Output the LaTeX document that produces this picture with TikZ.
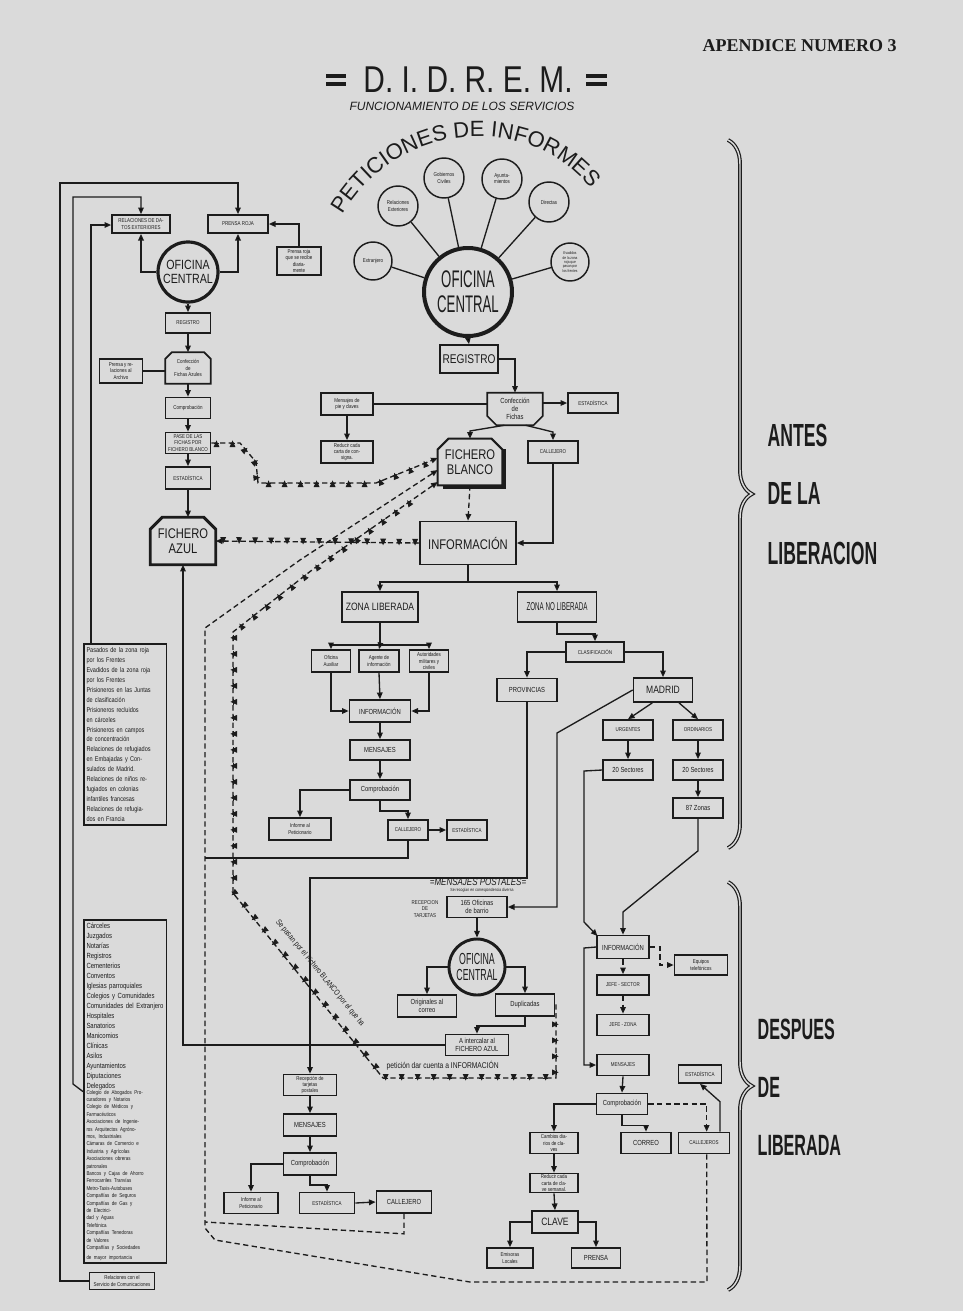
\documentclass[tikz,border=0pt]{standalone}
\usepackage{fontspec}
\setmainfont{Liberation Sans}
\newfontfamily\nf[FakeStretch=0.55]{Liberation Sans}
\newfontfamily\mf[FakeStretch=0.8]{Liberation Sans}
\newfontfamily\serfont{Liberation Serif}
\usetikzlibrary{arrows.meta,decorations.pathreplacing,decorations.markings,decorations.text,calc}
\definecolor{ink}{RGB}{28,28,28}
\definecolor{paper}{RGB}{218,218,218}
\newcommand\fT{\mf\fontsize{4.2}{4.6}\selectfont}
\newcommand\fS{\mf\fontsize{5.5}{6}\selectfont}
\newcommand\fM{\mf\fontsize{8}{9}\selectfont}
\newcommand\fL{\mf\fontsize{10.5}{11.5}\selectfont}
\newcommand\chamT[3]{\draw[ink,line width=#3,line join=miter] (#1.south west) -- ([yshift=-#2]#1.north west) -- ([xshift=#2]#1.north west) -- ([xshift=-#2]#1.north east) -- ([yshift=-#2]#1.north east) -- (#1.south east) -- cycle;}
\newcommand\chamB[3]{\draw[ink,line width=#3,line join=miter] (#1.north west) -- ([yshift=#2]#1.south west) -- ([xshift=#2]#1.south west) -- ([xshift=-#2]#1.south east) -- ([yshift=#2]#1.south east) -- (#1.north east) -- cycle;}
\begin{document}
\begin{tikzpicture}[x=0.75pt,y=-0.75pt,
  bx/.style 2 args={draw=ink, line width=1.25pt, minimum width={#1*0.75pt}, minimum height={#2*0.75pt}, inner sep=0.3pt, align=center, font=\fT, text=ink},
  sh/.style 2 args={minimum width={#1*0.75pt}, minimum height={#2*0.75pt}, inner sep=0.3pt, align=center, text=ink},
  cir/.style={draw=ink, circle, line width=1.1pt, minimum size={#1*1.5pt}, inner sep=0pt, align=center, font=\fT, text=ink},
  ln/.style={draw=ink, line width=1pt},
  ar/.style={ln, -{Triangle[length=5pt,width=4.2pt]}},
  dsh/.style={ln, dash pattern=on 4pt off 2.5pt},
  pl/.style={dsh, postaction={decorate, decoration={markings, mark=between positions 0.02 and 0.98 step 12pt with {\draw[solid,ink,line width=0.7pt] (-2pt,0)--(2pt,0) (0,-2pt)--(0,2pt);}}}},
  lst/.style={draw=ink, line width=1.25pt, align=left, inner sep=2pt, text=ink, anchor=north west}
]
\fill[paper] (0,0) rectangle (963,1311);
\useasboundingbox (0,0) rectangle (963,1311);

% ---------- titles
\node[font=\serfont\bfseries\fontsize{13.5}{14}\selectfont, text=ink, anchor=west] (apn) at (698,46) {APENDICE NUMERO 3};
\node[font=\mf\fontsize{28}{28}\selectfont, text=ink] (ttl) at (468,80) {D. I. D. R. E. M.};
\draw[ink,line width=2.4pt] (326,76)--(346,76) (326,84)--(346,84) (586,76)--(607,76) (586,84)--(607,84);
\node[font=\itshape\fontsize{9}{9}\selectfont, text=ink] (sub) at (462,106) {FUNCIONAMIENTO DE LOS SERVICIOS};
\path[decorate, decoration={text along path, text color=ink, text align=center, text={|\fontsize{16.5}{16.5}\selectfont|PETICIONES DE INFORMES}}] (342,216) .. controls (398,118) and (532,112) .. (592,190);

% ---------- top-left system
\node[cir=30, line width=2.4pt, font=\mf\fontsize{10}{10.5}\selectfont] (ocL) at (188,272) {OFICINA\\CENTRAL};
\node[bx={58}{18}] (rel) at (141,224) {RELACIONES DE DA-\\TOS EXTERIORES};
\node[bx={60}{18}] (pr) at (238,224) {PRENSA ROJA};
\node[bx={44}{28}] (prd) at (299,261) {Prensa roja\\que se recibe\\diaria-\\mente};
\node[bx={45}{20}] (regL) at (188,323) {REGISTRO};
\node[sh={45}{31}, font=\fT] (cfa) at (188,368) {Confección\\de\\Fichas Azules};
\chamT{cfa}{5pt}{1.25pt}
\node[bx={43}{24}] (arch) at (121,371) {Prensa y re-\\laciones al\\Archivo};
\node[bx={45}{21}] (cmpL) at (188,408) {Comprobación};
\node[bx={45}{21}] (pfb) at (188,443) {PASE DE LAS\\FICHAS POR\\FICHERO BLANCO};
\node[bx={45}{22}] (estL) at (188,478) {ESTADÍSTICA};
\node[sh={65}{47}, font=\fL] (faz) at (183,541) {FICHERO\\AZUL};
\chamT{faz}{9pt}{2.2pt}

\draw[ar] (ocL.west) -| (rel.south);
\draw[ar] (ocL.east) -| (pr.south);
\draw[ar] (prd.north) |- (pr.east);
\draw[ar] (ocL.south) -- (regL.north);
\draw[ar] (regL.south) -- (cfa.north);
\draw[ln] (arch.east) -- (arch.east -| cfa.west);
\draw[ar] (cfa.south) -- (cmpL.north);
\draw[ar] (cmpL.south) -- (pfb.north);
\draw[ar] (pfb.south) -- (estL.north);
\draw[ar] (estL.south) -- (estL.south |- faz.north);

% ---------- left lists
\node[lst, text width=58pt, minimum height=136pt, font=\mf\fontsize{5.2}{7.45}\selectfont] (tb1) at (83,643) {Pasados de la zona roja\\por los Frentes\\Evadidos de la zona roja\\por los Frentes\\Prisioneros en las Juntas\\de clasificación\\Prisioneros recluidos\\en cárceles\\Prisioneros en campos\\de concentración\\Relaciones de refugiados\\en Embajadas y Con-\\sulados de Madrid.\\Relaciones de niños re-\\fugiados en colonias\\infantiles francesas\\Relaciones de refugia-\\dos en Francia};
\node[lst, text width=58pt, minimum height=244pt, font=\mf\fontsize{5.6}{7.5}\selectfont] (tb2) at (83,919) {Cárceles\\Juzgados\\Notarías\\Registros\\Cementerios\\Conventos\\Iglesias parroquiales\\Colegios y Comunidades\\Comunidades del Extranjero\\Hospitales\\Sanatorios\\Manicomios\\Clínicas\\Asilos\\Ayuntamientos\\Diputaciones\\Delegados\\[-1pt]
{\fontsize{4.2}{5.55}\selectfont Colegio de Abogados Pro-\\curadores y Notarios\\Colegio de Médicos y\\Farmacéuticos\\Asociaciones de Ingenie-\\ros Arquitectos Agróno-\\mos, Industriales\\Cámaras de Comercio e\\Industria y Agrícolas\\Asociaciones obreras\\patronales\\Bancos y Cajas de Ahorro\\Ferrocarriles Tranvías\\Metro-Taxis-Autobuses\\Compañías de Seguros\\Compañías de Gas y\\de Electrici-\\dad y Aguas\\Telefónica\\Compañías Tenedoras\\de Valores\\Compañías y Sociedades\\de mayor importancia}};
\node[bx={65}{17}] (tb3) at (122,1281) {Relaciones con el\\Servicio de Comunicaciones};

\draw[ar] (tb3.west) -- (60,1281) -- (60,183) -| (pr.north);
\draw[ar] (tb2.west) -- (73,1084) -- (73,197) -| (rel.north);
\draw[ar] (tb1.north -| 91,0) -- (91,225) -- (rel.west |- 0,225);

% ---------- top centre: peticiones
\node[cir=44, line width=3pt, font=\nf\fontsize{18}{19}\selectfont] (ocT) at (468,292) {OFICINA\\CENTRAL};
\node[cir=19] (ext) at (373,261) {Extranjero};
\node[cir=20] (relx) at (398,206) {Relaciones\\Exteriores};
\node[cir=20] (gob) at (444,178) {Gobiernos\\Civiles};
\node[cir=20] (ayu) at (502,179) {Ayunta-\\mientos};
\node[cir=20] (dir) at (549,202) {Directas};
\node[cir=19, font=\mf\fontsize{3}{3.3}\selectfont] (hui) at (570,262) {Evadidos\\de la zona\\roja que\\pasan por\\los frentes};
\foreach \c in {ext,relx,gob,ayu,dir,hui} \draw[ln] (\c) -- (ocT);

\node[bx={58}{28}, font=\mf\fontsize{9.5}{10}\selectfont] (regT) at (469,359) {REGISTRO};
\node[sh={55}{32}, font=\fS] (cft) at (515,409) {Confección\\de\\Fichas};
\chamB{cft}{7pt}{1.25pt}
\node[bx={50}{20}] (estT) at (593,403) {ESTADÍSTICA};
\node[bx={52}{22}] (mpc) at (347,404) {Mensajes de\\pie y claves};
\node[bx={52}{22}] (rcc) at (347,452) {Reducir cada\\carta de con-\\signa.};
\node[sh={64}{46}, font=\fL] (fbl) at (470,462) {FICHERO\\BLANCO};
\draw[ink,line width=3pt] ([xshift=1.5pt,yshift=-8pt]fbl.north east) -- ([xshift=1.5pt,yshift=-1.5pt]fbl.south east) -- ([xshift=4pt,yshift=-1.5pt]fbl.south west);
\chamT{fbl}{8pt}{1.5pt}
\node[bx={50}{22}] (cal1) at (553,452) {CALLEJERO};
\node[bx={96}{43}, font=\fL] (inf) at (468,543) {INFORMACIÓN};

\draw[ar] (ocT.south) -- (regT.north);
\draw[ar] (regT.east) -| (cft.north);
\draw[ar] (estT.west -| cft.east) -- (estT.west);
\draw[ln] (mpc.east) -- (mpc.east -| cft.west);
\draw[ar] (mpc.south) -- (rcc.north);
\draw[ar] ([xshift=-8pt]cft.south) -- (fbl.north |- 0,431) -- (fbl.north);
\draw[ar] ([xshift=8pt]cft.south) -- (cal1.north |- 0,432) -- (cal1.north);
\draw[ar] (cal1.south) |- (inf.east);
\draw[ar, dsh] (fbl.south) -- (inf.north);
\draw[ar, pl] (inf.west) -- (faz.east);

% ---------- zona liberada
\coordinate (jz) at (468,582);
\node[bx={76}{30}, font=\fM] (zl) at (380,607) {ZONA LIBERADA};
\node[bx={79}{30}, font=\nf\fontsize{8.5}{9}\selectfont] (znl) at (557,607) {ZONA NO LIBERADA};
\draw[ln] (inf.south) -- (jz);
\draw[ar] (jz) -| (zl.north);
\draw[ar] (jz) -| (znl.north);
\coordinate (jl) at (380,645);
\node[bx={39}{22}] (oa) at (331,661) {Oficina\\Auxiliar};
\node[bx={40}{22}] (ag) at (379,661) {Agente de\\información};
\node[bx={39}{22}] (am) at (429,661) {Autoridades\\militares y\\civiles};
\draw[ln] (zl.south) -- (jl);
\draw[ar] (jl) -| (oa.north);
\draw[ar] (jl) -| (am.north);
\draw[ar] (jl) -- (ag.north);
\node[bx={61}{22}, font=\fS] (inf2) at (380,711) {INFORMACIÓN};
\node[bx={60}{20}, font=\fS] (mens1) at (380,750) {MENSAJES};
\node[bx={60}{20}, font=\fS] (comp1) at (380,790) {Comprobación};
\node[bx={62}{22}] (ipet1) at (300,829) {Informe al\\Peticionario};
\node[bx={40}{20}] (cal2) at (408,830) {CALLEJERO};
\node[bx={40}{20}] (est2) at (467,830) {ESTADÍSTICA};
\draw[ar] (oa.south) |- (inf2.west);
\draw[ar] (am.south) |- (inf2.east);
\draw[ar] (ag.south) -- (inf2.north);
\draw[ar] (inf2.south) -- (mens1.north);
\draw[ar] (mens1.south) -- (comp1.north);
\draw[ar] (comp1.west) -| (ipet1.north);
\draw[ar] (comp1.south) -- ++(0,10) -| (cal2.north);
\draw[ar] (cal2.east) -- (est2.west);
\draw[ln] (cal2.south) -- (408,858) -- (205,858);

% ---------- zona no liberada
\node[bx={58}{20}] (cla) at (595,652) {CLASIFICACIÓN};
\node[bx={60}{23}, font=\fS] (prov) at (527,690) {PROVINCIAS};
\node[bx={59}{24}, font=\fM] (mad) at (663,690) {MADRID};
\node[bx={50}{20}] (urg) at (628,730) {URGENTES};
\node[bx={50}{20}] (ord) at (698,730) {ORDINARIOS};
\node[bx={50}{20}, font=\fS] (s20a) at (628,770) {20 Sectores};
\node[bx={50}{20}, font=\fS] (s20b) at (698,770) {20 Sectores};
\node[bx={50}{20}, font=\fS] (z87) at (698,808) {87 Zonas};
\draw[ar] (znl.south) -- ++(0,11) -| (cla.north);
\draw[ar] (cla.west) -| (prov.north);
\draw[ar] (cla.east) -| (mad.north);
\draw[ar] ([xshift=-8pt]mad.south) -- (urg.north);
\draw[ar] ([xshift=12pt]mad.south) -- (ord.north);
\draw[ar] (urg.south) -- (s20a.north);
\draw[ar] (ord.south) -- (s20b.north);
\draw[ar] (s20b.south) -- (z87.north);

% ---------- despues: middle
\node[font=\mf\itshape\fontsize{7.5}{8}\selectfont, text=ink] (mpost) at (478,882) {=MENSAJES POSTALES=};
\node[font=\mf\fontsize{3.3}{3.5}\selectfont, text=ink] (mpsub) at (482,890) {Se recogían en correspondencia diversa};
\node[font=\fT, align=center, text=ink] (rdt) at (425,909) {RECEPCION\\DE\\TARJETAS};
\node[bx={60}{21}, font=\fS] (of165) at (477,907) {165 Oficinas\\de barrio};
\node[cir=28, line width=2.2pt, font=\nf\fontsize{12}{12.5}\selectfont] (ocB) at (477,967) {OFICINA\\CENTRAL};
\node[bx={59}{22}, font=\fS] (orig) at (427,1006) {Originales al\\correo};
\node[bx={59}{22}, font=\fS] (dup) at (525,1005) {Duplicadas};
\node[bx={63}{21}, font=\fS] (aint) at (477,1045) {A intercalar al\\FICHERO AZUL};
\draw[ar] (of165.south) -- (ocB.north);
\draw[ar] (ocB.west) -| (orig.north);
\draw[ar] (ocB.east) -| (dup.north);
\draw[ar] (dup.south) -- ++(0,9) -| (aint.north);
\draw[ar] (aint.west) -| (faz.south);
\draw[ar] (mad.west) -- (557,733) |- (of165.east);

% ---------- despues: left column
\node[bx={53}{21}] (pmsg) at (310,1085) {Recepción de\\tarjetas\\postales};
\node[bx={53}{22}, font=\fS] (pms) at (310,1125) {MENSAJES};
\node[bx={53}{22}, font=\fS] (pcomp) at (310,1164) {Comprobación};
\node[bx={54}{21}] (pinf) at (251,1203) {Informe al\\Peticionario};
\node[bx={55}{21}] (pest) at (327,1203) {ESTADÍSTICA};
\node[bx={55}{22}, font=\fS] (pcal) at (404,1202) {CALLEJERO};
\draw[ar] (prov.south) -- (prov.south |- 0,878) -| (pmsg.north);
\draw[ar] (pmsg.south) -- (pms.north);
\draw[ar] (pms.south) -- (pcomp.north);
\draw[ar] (pcomp.west) -| (pinf.north);
\draw[ar] (pcomp.south) -- ++(0,9) -| (pest.north);
\draw[ar] (pest.east) -- (pcal.west);

% ---------- despues: right column
\node[bx={52}{23}, font=\fS] (info3) at (623,947) {INFORMACIÓN};
\node[bx={53}{20}] (eqt) at (701,965) {Equipos\\telefónicos};
\node[bx={52}{20}] (jsec) at (623,985) {JEFE - SECTOR};
\node[bx={52}{21}] (jzon) at (623,1025) {JEFE - ZONA};
\node[bx={52}{21}] (mens3) at (623,1065) {MENSAJES};
\node[bx={51}{21}, font=\fS] (comp3) at (622,1104) {Comprobación};
\node[bx={43}{18}] (estR) at (700,1074) {ESTADÍSTICA};
\node[bx={48}{21}] (cb) at (554,1143) {Cambios dia-\\rios de cla-\\ves};
\node[bx={50}{21}, font=\fS] (corr) at (646,1143) {CORREO};
\node[bx={51}{21}] (calR) at (704,1143) {CALLEJEROS};
\node[bx={48}{19}] (rcc2) at (554,1183) {Reducir cada\\carta de cla-\\ve semanal.};
\node[bx={46}{22}, font=\fM] (clave) at (555,1222) {CLAVE};
\node[bx={46}{20}] (emi) at (510,1258) {Emisoras\\Locales};
\node[bx={49}{20}, font=\fS] (prensa) at (596,1258) {PRENSA};
\draw[ar] (s20a.west) -- (584,771) -- (584,922) -- ([xshift=1pt,yshift=-1pt]info3.north west);
\draw[ar] (z87.south) -- ++(0,32) -- (info3.north |- 0,912) -- (info3.north);
\draw[ar] (info3.west) -- (584,948) |- (mens3.west);
\draw[ar, dsh] (info3.east) -- ++(10,0) |- (eqt.west);
\draw[ar, dsh] (info3.south) -- (jsec.north);
\draw[ar, dsh] (jsec.south) -- (jzon.north);
\draw[ar] (mens3.south) -- (comp3.north);
\draw[ar] (comp3.west) -| (cb.north);
\draw[ar] (comp3.south) -- ++(0,10) -| (corr.north);
\draw[ar, dsh] (comp3.east) -| ([xshift=2pt]calR.north);
\draw[ar] ([xshift=12pt]calR.north) -- ++(0,-30) -- (estR.south);
\draw[ar] (cb.south) -- (rcc2.north);
\draw[ar] (rcc2.south) -- (clave.north);
\draw[ar] (clave.west) -| (emi.north);
\draw[ar] (clave.east) -| (prensa.north);

% ---------- dashed returns to Fichero Blanco
\draw[ar, pl] (pfb.east) -- (240,443) -- (256,462) -- (258,483) -- (376,483) -- ([yshift=3pt]fbl.west);
\draw[ar, dsh] ([xshift=2pt]calR.south) -- (707,1282) -- (470,1282) -- (215,1240) -- (205,1228) -- (205,628) -- (300,560) -- ([yshift=-6pt]fbl.west);
\draw[dsh] (pcal.south) -- ++(0,20) -- (205,1222);
\draw[ar, pl] (dup.east) -- (556,1005) -- (556,1078) -- (383,1078) -- (233,893) -- (233,632) -- (312,570) -- ([yshift=-15pt]fbl.west);
\node[font=\mf\fontsize{6}{6}\selectfont, text=ink, rotate=-50.7] (sepasan) at (320,973) {Se pasan por el Fichero BLANCO por el que ha};
\node[font=\mf\fontsize{6.3}{6.5}\selectfont, text=ink, anchor=west] (peticion) at (382,1066) {petición dar cuenta a INFORMACIÓN};

% ---------- braces and periods
\draw[ink, line width=0.9pt, double=paper, double distance=1.1pt, decorate, decoration={brace, amplitude=18pt}] (728,140) -- (728,848);
\draw[ink, line width=0.9pt, double=paper, double distance=1.1pt, decorate, decoration={brace, amplitude=18pt}] (728,882) -- (728,1290);
\node[font=\nf\bfseries\fontsize{24}{30}\selectfont, text=ink, anchor=west] (antes) at (763,435) {ANTES};
\node[font=\nf\bfseries\fontsize{24}{30}\selectfont, text=ink, anchor=west] (dela) at (763,493) {DE LA};
\node[font=\nf\bfseries\fontsize{24}{30}\selectfont, text=ink, anchor=west] (lib) at (763,553) {LIBERACION};
\node[font=\nf\bfseries\fontsize{22}{30}\selectfont, text=ink, anchor=west] (desp) at (753,1029) {DESPUES};
\node[font=\nf\bfseries\fontsize{22}{30}\selectfont, text=ink, anchor=west] (de2) at (753,1087) {DE};
\node[font=\nf\bfseries\fontsize{22}{30}\selectfont, text=ink, anchor=west] (libd) at (753,1145) {LIBERADA};
\end{tikzpicture}
\end{document}
